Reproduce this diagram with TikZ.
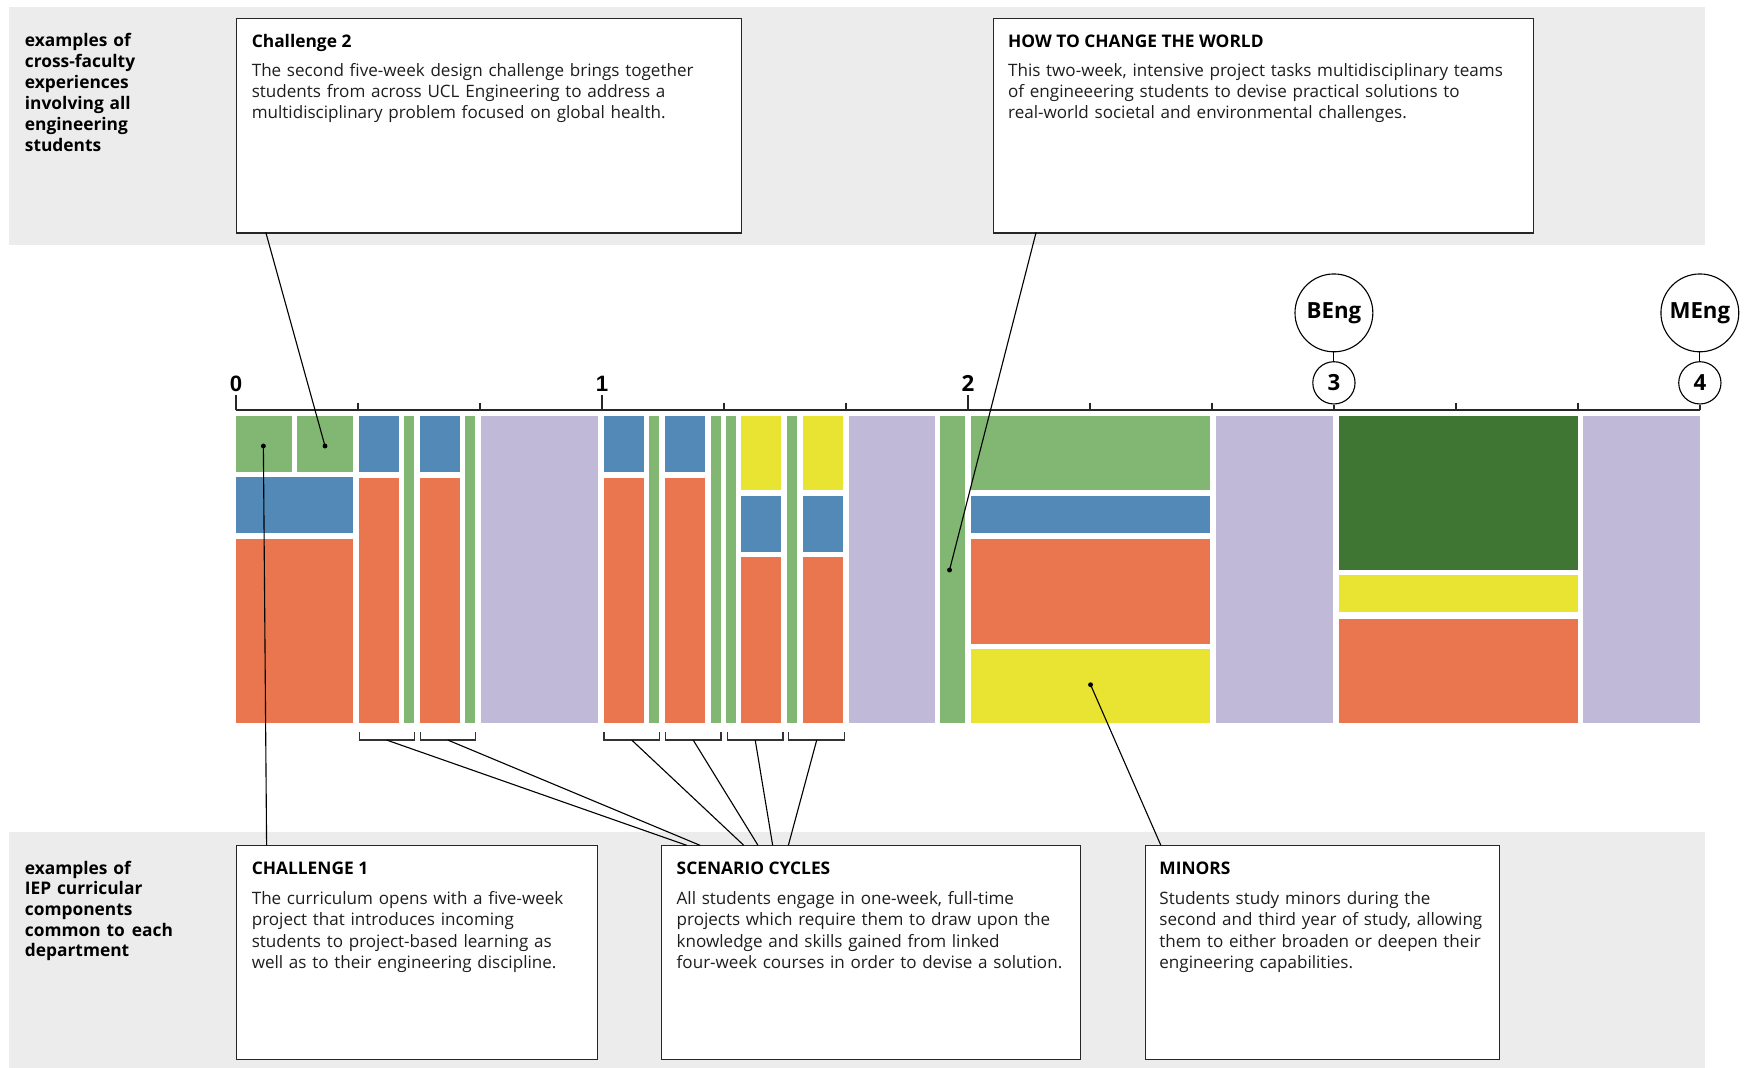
\documentclass[tikz,border=0pt]{standalone}
\usepackage{fontspec}
\setmainfont{Open Sans}
\newfontfamily\arialfont{Liberation Sans}
\usetikzlibrary{calc}
\definecolor{cgreen}{RGB}{129,182,115}
\definecolor{cblue}{RGB}{82,137,182}
\definecolor{corange}{RGB}{233,118,78}
\definecolor{cpurple}{RGB}{192,185,215}
\definecolor{cyellow}{RGB}{233,227,50}
\definecolor{cdkgreen}{RGB}{63,118,52}
\definecolor{bandgrey}{RGB}{236,236,236}
\definecolor{txt}{RGB}{30,30,30}
\newcommand\myBody{\fontsize{7.67pt}{9.5pt}\selectfont}
\newcommand\myHead{\fontsize{7.8pt}{9.5pt}\selectfont\bfseries}
\newcommand\mySide{\fontsize{7.8pt}{9.42pt}\selectfont\bfseries}
\newcommand\mySideB{\fontsize{7.8pt}{9.3pt}\selectfont\bfseries}
\newcommand\myblock[5]{\fill[#1] (#2,#3) rectangle (#4,#5);}
\tikzset{
  infobox/.style={draw=black!85, line width=0.5pt, fill=white, anchor=north west, inner sep=0pt, minimum height=96.5pt},
  headtxt/.style={font=\myHead, text=black, anchor=base west, inner sep=0pt},
  bodytxt/.style={font=\myBody, text=txt, anchor=base west, inner sep=0pt, align=left, text width=260pt},
  sidetxt/.style={font=\mySide, text=black, anchor=base west, inner sep=0pt, align=left, text width=80pt},
  conn/.style={draw=black, line width=0.5pt},
  dotmark/.style={circle, fill=black, inner sep=0pt, minimum size=2.2pt},
  axisln/.style={draw=black!85, line width=0.7pt},
  brk/.style={draw=black!80, line width=0.6pt},
  yrlbl/.style={font=\fontsize{10pt}{12pt}\selectfont\bfseries, anchor=base, inner sep=0pt},
  yrcirc/.style={circle, draw=black, line width=0.5pt, fill=white, minimum size=19pt, inner sep=0pt, font=\fontsize{10pt}{12pt}\selectfont\bfseries},
  degcirc/.style={circle, draw=black, line width=0.5pt, fill=white, minimum size=35pt, inner sep=0pt, font=\fontsize{10pt}{12pt}\selectfont\bfseries}
}
\begin{document}
\begin{tikzpicture}[x=0.5pt,y=-0.5pt]
\useasboundingbox (0,0) rectangle (1568,960);
% grey bands
\fill[bandgrey] (8,6) rectangle (1533,220);
\fill[bandgrey] (8,748) rectangle (1533,960);

% ---------- blocks: year 1 ----------
\myblock{cgreen}{212.3}{374}{262.4}{424}
\myblock{cgreen}{266.9}{374}{317.4}{424}
\myblock{cblue}{212.3}{429}{317.4}{479}
\myblock{corange}{212.3}{484.5}{317.4}{650}
\myblock{cblue}{322.6}{374}{358.7}{424}
\myblock{corange}{322.6}{430}{358.7}{650}
\myblock{cgreen}{363.2}{374}{372.4}{650}
\myblock{cblue}{377.6}{374}{413.8}{424}
\myblock{corange}{377.6}{430}{413.8}{650}
\myblock{cgreen}{418.1}{374}{427}{650}
\myblock{cpurple}{432.7}{374}{537.8}{650}
% ---------- year 2 ----------
\myblock{cblue}{543}{374}{579.1}{424}
\myblock{corange}{543}{430}{579.1}{650}
\myblock{cgreen}{583.5}{374}{592.4}{650}
\myblock{cblue}{597.9}{374}{633.7}{424}
\myblock{corange}{597.9}{430}{633.7}{650}
\myblock{cgreen}{639.3}{374}{648.2}{650}
\myblock{cgreen}{652.6}{374}{661.8}{650}
\myblock{cyellow}{666.2}{374}{702.4}{440.5}
\myblock{cblue}{666.2}{446}{702.4}{496.3}
\myblock{corange}{666.2}{500.8}{702.4}{650}
\myblock{cgreen}{707.6}{374}{716.4}{650}
\myblock{cyellow}{722}{374}{758.1}{440.5}
\myblock{cblue}{722}{446}{758.1}{496.3}
\myblock{corange}{722}{500.8}{758.1}{650}
\myblock{cpurple}{763.4}{374}{840.7}{650}
\myblock{cgreen}{845}{374}{867.7}{650}
% ---------- year 3 ----------
\myblock{cgreen}{873}{374}{1088}{440.5}
\myblock{cblue}{873}{446}{1088}{479}
\myblock{corange}{873}{484.5}{1088}{578.7}
\myblock{cyellow}{873}{583.5}{1088}{650}
\myblock{cpurple}{1093.3}{374}{1198.3}{650}
% ---------- year 4 ----------
\myblock{cdkgreen}{1204.1}{374}{1419}{512.5}
\myblock{cyellow}{1204.1}{517}{1419}{550}
\myblock{corange}{1204.1}{556.5}{1419}{650}
\myblock{cpurple}{1423.3}{374}{1528.3}{650}

% ---------- axis ----------
\draw[axisln] (212.3,368.6) -- (1528.3,368.6);
\foreach \x in {212.3,541.3,870.3} \draw[axisln] (\x,355) -- (\x,368.6);
\foreach \x in {321.97,431.63,650.97,760.63,979.97,1089.63,1308.97,1418.63} \draw[axisln] (\x,362) -- (\x,368.6);
\node[yrlbl, font=\arialfont\fontsize{10pt}{12pt}\selectfont\bfseries] (y0) at (212.3,352) {0};
\node[yrlbl, font=\arialfont\fontsize{10pt}{12pt}\selectfont\bfseries] (y1) at (541.3,352) {1};
\node[yrlbl] (y2) at (870.3,352) {2};
\node[yrcirc] (y3) at (1199.3,344.2) {3};
\node[yrcirc] (y4) at (1528.3,344.2) {4};
\node[degcirc] (beng) at (1199.3,281.3) {BEng};
\node[degcirc] (meng) at (1528.3,281.3) {MEng};
\coordinate (t3) at (1199.3,368.6);
\coordinate (t4) at (1528.3,368.6);
\draw[axisln] (y3.south) -- (t3);
\draw[axisln] (y4.south) -- (t4);
\draw[conn] (beng.south) -- (y3.north);
\draw[conn] (meng.south) -- (y4.north);

% ---------- side labels ----------
\node[sidetxt] (lbltop) at (22,42.2) {examples of\\cross-faculty\\experiences\\involving all\\engineering\\students};
\node[sidetxt, font=\mySideB] (lblbot) at (22,786) {examples of\\IEP curricular\\components\\common to\kern0.6pt\ each\\department};

% ---------- info boxes ----------
\node[infobox, minimum width=227pt] (c2) at (212,16) {};
\node[headtxt] (c2h) at (226,42.5) {Challenge 2};
\node[bodytxt] (c2b) at (226,68.5) {The second five-week design challenge brings together\\students from across UCL Engineering to address a\\multidisciplinary problem focused on global health.};

\node[infobox, minimum width=242.5pt] (htcw) at (893,16) {};
\node[headtxt] (htcwh) at (906,42.5) {HOW TO CHANGE THE WORLD};
\node[bodytxt] (htcwb) at (906,68.5) {This two-week, intensive project tasks multidisciplinary teams\\of engineeering students to devise practical solutions to\\real-world societal and environmental challenges.};

\node[infobox, minimum width=162.5pt, minimum height=96pt] (c1) at (212,760) {};
\node[headtxt] (c1h) at (226,786.5) {CHALLENGE 1};
\node[bodytxt] (c1b) at (226,813.5) {The curriculum opens with a five-week\\project that introduces incoming\\students to project-based learning as\\well as to their engineering discipline.};

\node[infobox, minimum width=188.5pt, minimum height=96pt] (sc) at (594,760) {};
\node[headtxt] (sch) at (608,786.5) {SCENARIO CYCLES};
\node[bodytxt] (scb) at (608,813.5) {All students engage in one-week, full-time\\projects which require them to draw upon the\\knowledge and skills gained from linked\\four-week courses in order to devise a solution.};

\node[infobox, minimum width=159.5pt, minimum height=96pt] (mn) at (1029,760) {};
\node[headtxt] (mnh) at (1042,786.5) {MINORS};
\node[bodytxt] (mnb) at (1042,813.5) {Students study minors during the\\second and third year of study, allowing\\them to either broaden or deepen their\\engineering capabilities.};

% ---------- annotation connectors ----------
\node[dotmark] (d1) at (236.8,401) {};
\node[dotmark] (d2) at (292.2,401) {};
\node[dotmark] (d3) at (853.7,512.5) {};
\node[dotmark] (d4) at (980.5,615.6) {};
\coordinate (c2o) at (239,209);
\coordinate (c1i) at (239.7,760);
\coordinate (htcwo) at (931.5,209);
\coordinate (mni) at (1043.7,760);
\draw[conn] (c2o) -- (d2.center);
\draw[conn] (d1.center) -- (c1i);
\draw[conn] (htcwo) -- (d3.center);
\draw[conn] (d4.center) -- (mni);

% ---------- scenario brackets ----------
\foreach \a/\b/\e [count=\i] in {323/372.5/617.4, 378/427.4/629.4, 543/593/668.7, 598.2/648.3/681.5, 654/704/694.7, 709.1/759.5/708.8} {
  \draw[brk] (\a,658) -- (\a,665.4) -- (\b,665.4) -- (\b,658);
  \coordinate (br\i) at ({(\a+\b)/2},665.4);
  \coordinate (sc\i) at (\e,760);
  \draw[conn] (br\i) -- (sc\i);
}
\end{tikzpicture}
\end{document}
